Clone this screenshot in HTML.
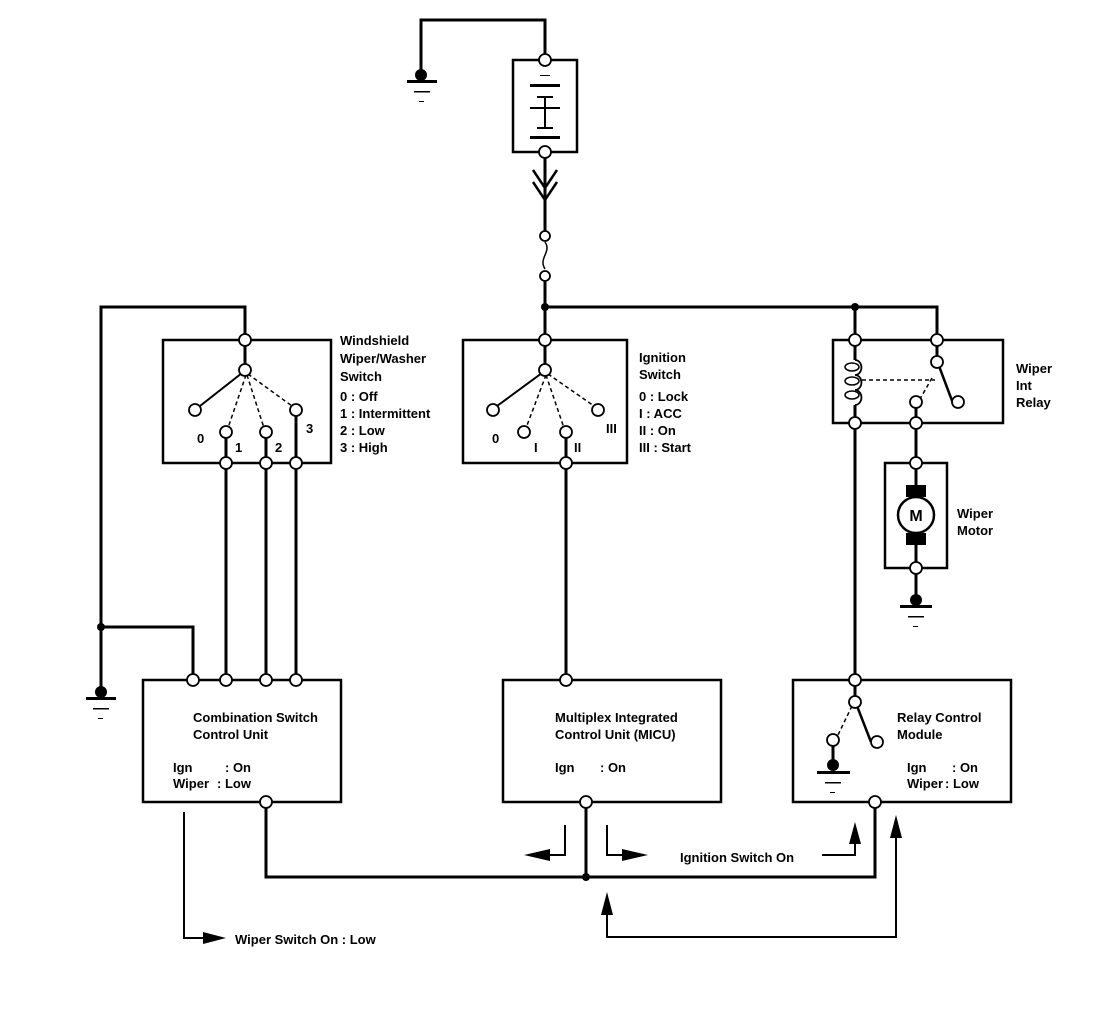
<!DOCTYPE html>
<html><head><style>body{margin:0;background:#fff}svg{display:block}text{font-family:"Liberation Sans",sans-serif;font-weight:bold;font-size:13px;fill:#000}</style></head><body>
<svg width="1120" height="1010" viewBox="0 0 1120 1010" xmlns="http://www.w3.org/2000/svg">
<g fill="none" stroke="#000" stroke-width="3">
<!-- battery -->
<rect x="513" y="60" width="64" height="92" stroke-width="2.5"/>
<polyline points="545,60 545,20 421,20 421,75"/>
<line x1="545" y1="152" x2="545" y2="235"/>
<polyline points="533,170 545,188 557,170" stroke-width="2.5"/>
<polyline points="533,182 545,200 557,182" stroke-width="2.5"/>
<path d="M545,242 C552,252 538,258 545,269" stroke-width="1.5"/>
<line x1="545" y1="276" x2="545" y2="340"/>
<line x1="545" y1="307" x2="855" y2="307"/>
<polyline points="855,307 937,307 937,340"/>
<!-- wiper switch -->
<rect x="163" y="340" width="168" height="123" stroke-width="2.5"/>
<polyline points="245,340 245,307 101,307 101,692"/>
<polyline points="101,627 193,627 193,680"/>
<line x1="245" y1="340" x2="245" y2="370"/>
<line x1="242" y1="373" x2="200" y2="406" stroke-width="2"/>
<line x1="226" y1="436" x2="226" y2="680"/>
<line x1="266" y1="436" x2="266" y2="680"/>
<line x1="296" y1="414" x2="296" y2="680"/>
<!-- ignition -->
<rect x="463" y="340" width="164" height="123" stroke-width="2.5"/>
<line x1="545" y1="340" x2="545" y2="370"/>
<line x1="542" y1="373" x2="497" y2="406" stroke-width="2"/>
<line x1="566" y1="436" x2="566" y2="680"/>
<!-- relay -->
<rect x="833" y="340" width="170" height="83" stroke-width="2.5"/>
<line x1="855" y1="307" x2="855" y2="360"/>
<line x1="855" y1="405" x2="855" y2="680"/>
<path d="M855,360 a6,7 0 0 1 0,15 a6,7 0 0 1 0,15 a6,7 0 0 1 0,15" stroke-width="1.8"/>
<ellipse cx="852" cy="367" rx="7" ry="4" stroke-width="1.5"/>
<ellipse cx="852" cy="381" rx="7" ry="4" stroke-width="1.5"/>
<ellipse cx="852" cy="395" rx="7" ry="4" stroke-width="1.5"/>
<line x1="937" y1="340" x2="937" y2="362"/>
<line x1="939" y1="366" x2="954" y2="406" stroke-width="2.5"/>
<line x1="916" y1="406" x2="916" y2="463"/>
<!-- motor -->
<rect x="885" y="463" width="62" height="105" stroke-width="2.5"/>
<line x1="916" y1="463" x2="916" y2="600"/>
<!-- combination -->
<rect x="143" y="680" width="198" height="122" stroke-width="2.5"/>
<polyline points="266,802 266,877 875,877 875,802"/>
<!-- MICU -->
<rect x="503" y="680" width="218" height="122" stroke-width="2.5"/>
<line x1="586" y1="802" x2="586" y2="877"/>
<!-- relay control -->
<rect x="793" y="680" width="218" height="122" stroke-width="2.5"/>
<line x1="855" y1="680" x2="855" y2="702"/>
<line x1="857" y1="706" x2="871" y2="742" stroke-width="2.5"/>
<line x1="833" y1="745" x2="833" y2="765"/>
<!-- arrows lines -->
<g stroke-width="2">
<polyline points="565,825 565,855 545,855"/>
<polyline points="607,825 607,855 625,855"/>
<polyline points="822,855 855,855 855,835"/>
<polyline points="896,835 896,937 607,937 607,915"/>
<polyline points="184,812 184,938 205,938"/>
</g>
</g>
<!-- dashed -->
<g stroke="#000" stroke-width="1.5" stroke-dasharray="4,3" fill="none">
<line x1="246" y1="375" x2="228" y2="428"/>
<line x1="247" y1="375" x2="264" y2="428"/>
<line x1="248" y1="374" x2="292" y2="406"/>
<line x1="546" y1="375" x2="526" y2="428"/>
<line x1="546" y1="375" x2="564" y2="428"/>
<line x1="548" y1="374" x2="594" y2="406"/>
<line x1="862" y1="380" x2="935" y2="380"/>
<line x1="932" y1="378" x2="920" y2="399"/>
<line x1="852" y1="706" x2="837" y2="737"/>
</g>
<!-- arrowheads -->
<g fill="#000">
<polygon points="524,855 550,849 550,861"/>
<polygon points="648,855 622,849 622,861"/>
<polygon points="855,822 849,844 861,844"/>
<polygon points="896,815 890,838 902,838"/>
<polygon points="607,892 601,915 613,915"/>
<polygon points="226,938 203,932 203,944"/>
<!-- battery plates -->
<rect x="530" y="84" width="30" height="3"/><rect x="537" y="96" width="16" height="2"/>
<rect x="530" y="107" width="30" height="2"/><rect x="544" y="98" width="2" height="30"/>
<rect x="537" y="127" width="16" height="2"/><rect x="530" y="136" width="30" height="3"/>
<rect x="540" y="75" width="10" height="1"/>
<!-- grounds -->
<circle cx="421" cy="75" r="6"/><rect x="407" y="80" width="30" height="3"/><rect x="414" y="91" width="16" height="1.5"/><rect x="419" y="101" width="5" height="1"/>
<circle cx="101" cy="692" r="6"/><rect x="86" y="697" width="30" height="3"/><rect x="93" y="708" width="16" height="1.5"/><rect x="98" y="718" width="5" height="1"/>
<circle cx="916" cy="600" r="6"/><rect x="900" y="605" width="32" height="3"/><rect x="908" y="616" width="16" height="1.5"/><rect x="913" y="626" width="5" height="1"/>
<circle cx="833" cy="765" r="6"/><rect x="817" y="771" width="33" height="3"/><rect x="825" y="782" width="16" height="1.5"/><rect x="830" y="792" width="5" height="1"/>
<!-- junction dots -->
<circle cx="545" cy="307" r="4"/><circle cx="855" cy="307" r="4"/><circle cx="101" cy="627" r="4"/><circle cx="586" cy="877" r="4"/>
<!-- motor brushes -->
<rect x="906" y="485" width="20" height="12"/><rect x="906" y="533" width="20" height="12"/>
</g>
<circle cx="916" cy="515" r="18" fill="#fff" stroke="#000" stroke-width="2.5"/>
<text x="916" y="521" text-anchor="middle" style="font-size:16px">M</text>
<!-- terminal circles -->
<g fill="#fff" stroke="#000" stroke-width="1.8">
<circle cx="545" cy="60" r="6"/><circle cx="545" cy="152" r="6"/><circle cx="545" cy="236" r="5"/><circle cx="545" cy="276" r="5"/>
<circle cx="245" cy="340" r="6"/><circle cx="245" cy="370" r="6"/><circle cx="195" cy="410" r="6"/><circle cx="226" cy="432" r="6"/><circle cx="266" cy="432" r="6"/><circle cx="296" cy="410" r="6"/>
<circle cx="226" cy="463" r="6"/><circle cx="266" cy="463" r="6"/><circle cx="296" cy="463" r="6"/>
<circle cx="545" cy="340" r="6"/><circle cx="545" cy="370" r="6"/><circle cx="493" cy="410" r="6"/><circle cx="524" cy="432" r="6"/><circle cx="566" cy="432" r="6"/><circle cx="598" cy="410" r="6"/><circle cx="566" cy="463" r="6"/>
<circle cx="855" cy="340" r="6"/><circle cx="937" cy="340" r="6"/><circle cx="937" cy="362" r="6"/><circle cx="958" cy="402" r="6"/><circle cx="916" cy="402" r="6"/><circle cx="855" cy="423" r="6"/><circle cx="916" cy="423" r="6"/>
<circle cx="916" cy="463" r="6"/><circle cx="916" cy="568" r="6"/>
<circle cx="193" cy="680" r="6"/><circle cx="226" cy="680" r="6"/><circle cx="266" cy="680" r="6"/><circle cx="296" cy="680" r="6"/><circle cx="266" cy="802" r="6"/>
<circle cx="566" cy="680" r="6"/><circle cx="586" cy="802" r="6"/>
<circle cx="855" cy="680" r="6"/><circle cx="855" cy="702" r="6"/><circle cx="877" cy="742" r="6"/><circle cx="833" cy="740" r="6"/><circle cx="875" cy="802" r="6"/>
</g>
<!-- labels -->
<text x="340" y="345">Windshield</text><text x="340" y="363">Wiper/Washer</text><text x="340" y="381">Switch</text>
<text x="340" y="401">0  :  Off</text><text x="340" y="418">1  :  Intermittent</text><text x="340" y="435">2  :  Low</text><text x="340" y="452">3  :  High</text>
<text x="197" y="443">0</text><text x="235" y="452">1</text><text x="275" y="452">2</text><text x="306" y="433">3</text>
<text x="639" y="362">Ignition</text><text x="639" y="379">Switch</text>
<text x="639" y="401">0    :  Lock</text><text x="639" y="418">I     :  ACC</text><text x="639" y="435">II    :  On</text><text x="639" y="452">III   :  Start</text>
<text x="492" y="443">0</text><text x="534" y="452">I</text><text x="574" y="452">II</text><text x="606" y="433">III</text>
<text x="1016" y="373">Wiper</text><text x="1016" y="390">Int</text><text x="1016" y="407">Relay</text>
<text x="957" y="518">Wiper</text><text x="957" y="535">Motor</text>
<text x="193" y="722">Combination Switch</text><text x="193" y="739">Control Unit</text>
<text x="173" y="772">Ign</text><text x="225" y="772">: On</text><text x="173" y="788">Wiper</text><text x="217" y="788">: Low</text>
<text x="555" y="722">Multiplex Integrated</text><text x="555" y="739">Control Unit (MICU)</text>
<text x="555" y="772">Ign</text><text x="600" y="772">: On</text>
<text x="897" y="722">Relay Control</text><text x="897" y="739">Module</text>
<text x="907" y="772">Ign</text><text x="952" y="772">: On</text><text x="907" y="788">Wiper</text><text x="945" y="788">: Low</text>
<text x="680" y="862">Ignition Switch On</text>
<text x="235" y="944">Wiper Switch On : Low</text>
</svg>
</body></html>
